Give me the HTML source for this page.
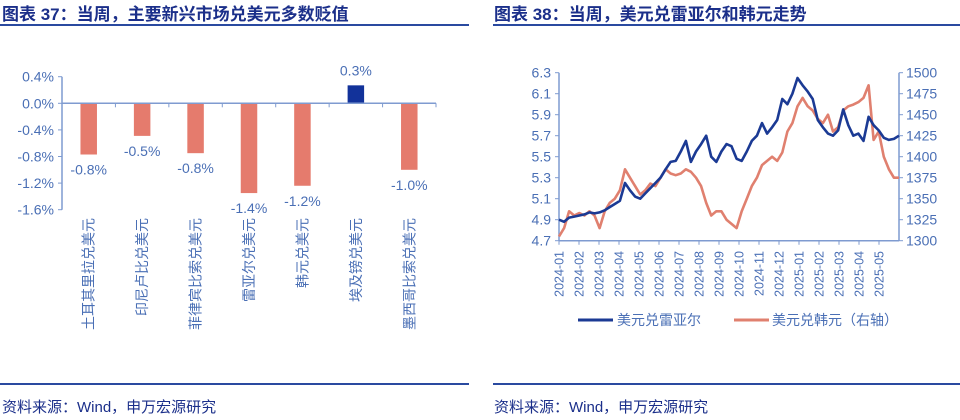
<!DOCTYPE html>
<html><head><meta charset="utf-8">
<style>
html,body{margin:0;padding:0;background:#fff;}
svg{display:block;font-family:"Liberation Sans","Noto Sans CJK SC",sans-serif;}
</style></head>
<body>
<svg id="s" width="960" height="420" viewBox="0 0 960 420">
  <text x="2" y="20" font-size="17" font-weight="bold" fill="#1b2f8a">图表 37：当周，主要新兴市场兑美元多数贬值</text>
  <line x1="0" y1="25" x2="469" y2="25" stroke="#2a4aa0" stroke-width="2"/>
  <text x="494" y="20" font-size="17" font-weight="bold" fill="#1b2f8a">图表 38：当周，美元兑雷亚尔和韩元走势</text>
  <line x1="493" y1="25" x2="960" y2="25" stroke="#2a4aa0" stroke-width="2"/>
  <line x1="0" y1="384" x2="469" y2="384" stroke="#2a4aa0" stroke-width="2"/>
  <line x1="493" y1="384" x2="960" y2="384" stroke="#2a4aa0" stroke-width="2"/>
  <text x="2" y="412" font-size="15" fill="#1b2f8a">资料来源：Wind，申万宏源研究</text>
  <text x="494" y="412" font-size="15" fill="#1b2f8a">资料来源：Wind，申万宏源研究</text>
  <g id="bar"></g>
  <g id="line"></g>
  <g>
    <line x1="578" y1="320" x2="613" y2="320" stroke="#1b3a94" stroke-width="3"/>
    <text x="617" y="325" font-size="14" fill="#4a6fb5">美元兑雷亚尔</text>
    <line x1="734" y1="320" x2="769" y2="320" stroke="#e0806f" stroke-width="3"/>
    <text x="772" y="325" font-size="14" fill="#4a6fb5">美元兑韩元（右轴）</text>
  </g>
</svg>
<script>
const barCats=["土耳其里拉兑美元","印尼卢比兑美元","菲律宾比索兑美元","雷亚尔兑美元","韩元兑美元","埃及镑兑美元","墨西哥比索兑美元"];
const barVals=[-0.77,-0.49,-0.75,-1.35,-1.24,0.27,-1.0];
const barLabels=["-0.8%","-0.5%","-0.8%","-1.4%","-1.2%","0.3%","-1.0%"];
const barTicks=[0.4,0.0,-0.4,-0.8,-1.2,-1.6];
const barTickLabels=["0.4%","0.0%","-0.4%","-0.8%","-1.2%","-1.6%"];

const lineMonths=["2024-01","2024-02","2024-03","2024-04","2024-05","2024-06","2024-07","2024-08","2024-09","2024-10","2024-11","2024-12","2025-01","2025-02","2025-03","2025-04","2025-05"];
const brl=[4.90,4.88,4.92,4.93, 4.94,4.95,4.97,4.96, 4.97,4.99,5.02,5.05, 5.08,5.25,5.18,5.12, 5.10,5.15,5.20,5.25, 5.30,5.38,5.45,5.46, 5.55,5.65,5.45,5.55, 5.62,5.70,5.50,5.45, 5.55,5.62,5.60,5.48, 5.46,5.55,5.65,5.70, 5.82,5.72,5.78,5.85, 6.05,6.00,6.10,6.25, 6.18,6.12,6.05,5.85, 5.78,5.72,5.70,5.75, 5.95,5.80,5.70,5.72, 5.65,5.88,5.80,5.75, 5.68,5.66,5.67,5.70];
const krw=[1305,1315,1335,1330, 1333,1330,1335,1330, 1315,1335,1345,1350, 1360,1385,1375,1365, 1355,1360,1368,1365, 1375,1385,1380,1378, 1380,1385,1382,1375, 1365,1345,1330,1335, 1335,1325,1320,1315, 1335,1350,1365,1375, 1390,1395,1400,1395, 1405,1430,1440,1460, 1470,1460,1455,1445, 1440,1450,1430,1435, 1455,1460,1462,1465, 1470,1485,1420,1430, 1400,1385,1375,1375];
const leftTicks=[4.7,4.9,5.1,5.3,5.5,5.7,5.9,6.1,6.3];
const rightTicks=[1300,1325,1350,1375,1400,1425,1450,1475,1500];

const NS="http://www.w3.org/2000/svg";
function mk(tag,attrs,parent,txt){const e=document.createElementNS(NS,tag);for(const k in attrs)e.setAttribute(k,attrs[k]);if(txt!==undefined)e.textContent=txt;parent.appendChild(e);return e;}
const AX="#7f9bd0", TX="#4a6fb5";

// Bar chart
const bg=document.getElementById('bar');
const bx0=62,bx1=436;
const by=v=>103.3-(v/0.4)*26.6;
const bw=(bx1-bx0)/barCats.length;
let a=mk('line',{x1:bx0,y1:by(0.4),x2:bx0,y2:by(-1.6),stroke:AX,'stroke-width':1.5},bg);


barTicks.forEach((t,i)=>{
  let tk=mk('line',{x1:bx0-4,y1:by(t),x2:bx0,y2:by(t),stroke:AX},bg);
  
  
  let l=mk('text',{x:bx0-8,y:by(t)+5,'text-anchor':'end','font-size':14,fill:TX},bg,barTickLabels[i]);
  
  
});
barCats.forEach((c,i)=>{
  const cx=bx0+bw*(i+0.5), v=barVals[i];
  const r=mk('rect',{x:cx-8.25,y:Math.min(by(0),by(v)),width:16.5,height:Math.abs(by(v)-by(0)),fill:v>=0?'#12329a':'#e57b6d'},bg);
  
  
  const ly=v>=0?by(v)-10:by(v)+20;
  const t=mk('text',{x:cx,y:ly,'text-anchor':'middle','font-size':14,fill:TX},bg,barLabels[i]);
  
  
  const ct=mk('text',{x:0,y:0,'text-anchor':'end','font-size':14,fill:TX,transform:`translate(${cx+5},218) rotate(-90)`},bg,c);
  
  
});
let ax=mk('line',{x1:bx0,y1:by(0),x2:bx1,y2:by(0),stroke:AX,'stroke-width':1.5},bg);


for(let i=1;i<=barCats.length;i++){
  let tk=mk('line',{x1:bx0+bw*i,y1:by(0),x2:bx0+bw*i,y2:by(0)+4,stroke:AX},bg);
  
  
}

// Line chart
const lg=document.getElementById('line');
const lx0=559,lx1=899,ly0=240.7,ly1=72.7;
const yl=v=>ly0-(v-4.7)/1.6*(ly0-ly1);
const yr=v=>ly0-(v-1300)/200*(ly0-ly1);
const xi=(i,n)=>lx0+i/(n-1)*(lx1-lx0);
const mw=(lx1-lx0)/lineMonths.length;
let la=mk('line',{x1:lx0,y1:ly1,x2:lx0,y2:ly0,stroke:AX,'stroke-width':1.5},lg);


let ra=mk('line',{x1:lx1,y1:ly1,x2:lx1,y2:ly0,stroke:AX,'stroke-width':1.5},lg);


let xa=mk('line',{x1:lx0,y1:ly0,x2:lx1,y2:ly0,stroke:AX,'stroke-width':1.5},lg);


leftTicks.forEach(t=>{
  let tk=mk('line',{x1:lx0-4,y1:yl(t),x2:lx0,y2:yl(t),stroke:AX},lg);
  
  
  let l=mk('text',{x:lx0-8,y:yl(t)+5,'text-anchor':'end','font-size':14,fill:TX},lg,t.toFixed(1));
  
  
});
rightTicks.forEach(t=>{
  let tk=mk('line',{x1:lx1,y1:yr(t),x2:lx1+4,y2:yr(t),stroke:AX},lg);
  
  
  let l=mk('text',{x:lx1+7,y:yr(t)+5,'font-size':14,fill:TX},lg,String(t));
  
  
});
lineMonths.forEach((m,i)=>{
  const x=lx0+mw*i;
  let tk=mk('line',{x1:x,y1:ly0,x2:x,y2:ly0+4,stroke:AX},lg);
  
  
  let l=mk('text',{x:0,y:0,'text-anchor':'end','font-size':12.5,fill:TX,transform:`translate(${x+4.5},251) rotate(-90)`},lg,m);
  
  
});
const pk=krw.map((v,i)=>`${xi(i,krw.length).toFixed(1)},${yr(v).toFixed(1)}`).join(' ');
let kp=mk('polyline',{points:pk,fill:'none',stroke:'#e0806f','stroke-width':2.6,'stroke-linejoin':'round'},lg);


const pb=brl.map((v,i)=>`${xi(i,brl.length).toFixed(1)},${yl(v).toFixed(1)}`).join(' ');
let bp=mk('polyline',{points:pb,fill:'none',stroke:'#1b3a94','stroke-width':2.6,'stroke-linejoin':'round'},lg);


</script>
</body></html>
